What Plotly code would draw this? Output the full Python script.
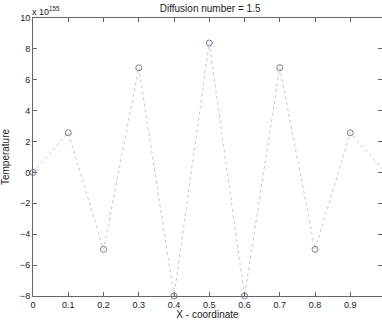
import plotly.graph_objects as go

x_coord = [0.0, 0.1, 0.2, 0.3, 0.4, 0.5, 0.6, 0.7, 0.8, 0.9, 1.0]
temperature = [0.0, 2.57, -4.98, 6.78, -8.0, 8.38, -8.0, 6.78, -4.98, 2.57, 0.0]  # x 1e155
x_ticks = [0, 0.1, 0.2, 0.3, 0.4, 0.5, 0.6, 0.7, 0.8, 0.9, 1.0]
x_ticklabels = ["0", "0.1", "0.2", "0.3", "0.4", "0.5", "0.6", "0.7", "0.8", "0.9", "1"]
y_ticks = [-8, -6, -4, -2, 0, 2, 4, 6, 8, 10]

fig = go.Figure()
fig.add_trace(go.Scatter(
    x=x_coord, y=temperature, mode="lines",
    line=dict(color="#c6c6d6", width=1, dash="dot"),
    showlegend=False, cliponaxis=True,
))
fig.add_trace(go.Scatter(
    x=x_coord, y=temperature, mode="markers",
    marker=dict(symbol="circle-open", size=6, color="#7a7a9a", line=dict(width=1)),
    showlegend=False, cliponaxis=False,
))

FAM = "Liberation Sans, Arial, sans-serif"
fig.update_layout(
    width=382, height=320,
    margin=dict(l=33, r=0, t=18, b=24),
    paper_bgcolor="white", plot_bgcolor="white",
    font=dict(family=FAM, size=9, color="#222"),
    title=dict(text="Diffusion number = 1.5", x=0.55, xanchor="center", y=0.985, yanchor="top",
               font=dict(family=FAM, size=10, color="#222")),
    xaxis=dict(range=[0, 0.99], tickvals=x_ticks, ticktext=x_ticklabels,
               showgrid=False, zeroline=False, showline=True, linecolor="#666", linewidth=1,
               mirror="ticks", ticks="inside", ticklen=4, tickcolor="#666",
               title=dict(text="X - coordinate", standoff=1,
                          font=dict(family=FAM, size=10, color="#222"))),
    yaxis=dict(range=[-8, 10], tickvals=y_ticks,
               showgrid=False, zeroline=False, showline=True, linecolor="#666", linewidth=1,
               mirror="ticks", ticks="inside", ticklen=4, tickcolor="#666",
               title=dict(text="Temperature", standoff=12,
                          font=dict(family=FAM, size=10, color="#222"))),
    annotations=[dict(text="x 10<sup>155</sup>", xref="paper", yref="paper", x=0, y=1,
                      xanchor="left", yanchor="bottom", showarrow=False, xshift=-3, yshift=-1,
                      font=dict(family=FAM, size=9, color="#222"))],
)

fig.write_html("out.html")
